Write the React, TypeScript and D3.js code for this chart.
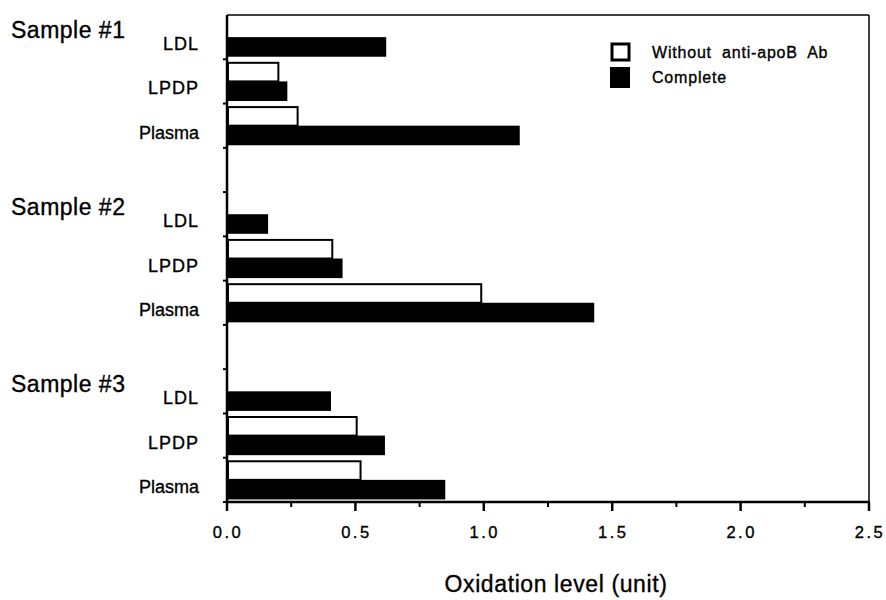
import React from "react";
import * as d3 from "d3";

const samples = ["Sample #1", "Sample #2", "Sample #3"];
const fractions = ["LDL", "LPDP", "Plasma"];
const seriesNames = ["Without anti-apoB Ab", "Complete"];
// values per sample, per fraction (null = no bar)
const withoutAb: (number | null)[][] = [
  [null, 0.2, 0.275],
  [null, 0.41, 0.99],
  [null, 0.505, 0.52],
];
const complete: number[][] = [
  [0.62, 0.235, 1.14],
  [0.16, 0.45, 1.43],
  [0.405, 0.615, 0.85],
];
const xTicks = [0, 0.5, 1.0, 1.5, 2.0, 2.5];
const xMinorTicks = [0.25, 0.75, 1.25, 1.75, 2.25];
const xTitle = "Oxidation level (unit)";

const W = 886;
const H = 600;
const M = { left: 227, right: 869, top: 15, bottom: 502 };
const FONT = "'Liberation Sans', Arial, Helvetica, sans-serif";
const TXT = { fontFamily: FONT, stroke: "#000", strokeWidth: 0.35 };

export default function App() {
  // rows: 3 fractions per sample, with an empty row between samples
  const rows: string[] = [];
  samples.forEach((s, si) => {
    fractions.forEach((f) => rows.push(`${si}-${f}`));
    if (si < samples.length - 1) rows.push(`gap-${si}`);
  });

  const x = d3.scaleLinear().domain([0, 2.5]).range([M.left, M.right]);
  const y = d3.scaleBand<string>().domain(rows).range([M.top, M.bottom]).paddingInner(0).paddingOuter(0);
  const inner = d3
    .scaleBand<string>()
    .domain(["without", "complete"])
    .range([0, y.bandwidth()])
    .paddingInner(0)
    .paddingOuter(0.13);

  const bars: { key: string; y: number; v: number; filled: boolean }[] = [];
  samples.forEach((_, si) => {
    fractions.forEach((f, fi) => {
      const rowY = y(`${si}-${f}`)!;
      const w = withoutAb[si][fi];
      if (w != null) bars.push({ key: `w-${si}-${fi}`, y: rowY + inner("without")!, v: w, filled: false });
      bars.push({ key: `c-${si}-${fi}`, y: rowY + inner("complete")!, v: complete[si][fi], filled: true });
    });
  });

  const yTickPos = rows.map((r) => y(r)!).slice(1).concat([M.bottom]);

  return (
    <svg width={W} height={H} style={{ position: "absolute", left: 0, top: 0, background: "#fff" }}>
      <rect x={0} y={0} width={W} height={H} fill="#fff" />
      {bars.map((b) =>
        b.filled ? (
          <rect key={b.key} x={x(0)} y={b.y} width={x(b.v) - x(0)} height={inner.bandwidth()} fill="#000" />
        ) : (
          <rect
            key={b.key}
            x={x(0) + 1}
            y={b.y + 1}
            width={x(b.v) - x(0) - 1}
            height={inner.bandwidth() - 1}
            fill="#fff"
            stroke="#000"
            strokeWidth={2}
          />
        )
      )}
      <line x1={M.left} x2={M.right} y1={M.top} y2={M.top} stroke="#000" strokeWidth={1.5} />
      <line x1={M.right} x2={M.right} y1={M.top} y2={M.bottom} stroke="#000" strokeWidth={1.5} />
      <line x1={M.left} x2={M.left} y1={M.top} y2={M.bottom} stroke="#000" strokeWidth={2.5} />
      <line x1={M.left - 1} x2={M.right + 1} y1={M.bottom} y2={M.bottom} stroke="#000" strokeWidth={2.5} />
      {yTickPos.map((p, i) => (
        <line key={`yt${i}`} x1={M.left - 4} x2={M.left} y1={p} y2={p} stroke="#000" strokeWidth={2} />
      ))}
      {xTicks.map((t) => (
        <g key={`xt${t}`}>
          <line x1={x(t)} x2={x(t)} y1={M.bottom} y2={M.bottom + 9} stroke="#000" strokeWidth={2.5} />
          <text x={x(t) + 1} y={M.bottom + 36} textAnchor="middle" fontSize={16.5} letterSpacing={2.5} {...TXT}>
            {t.toFixed(1)}
          </text>
        </g>
      ))}
      {xMinorTicks.map((t) => (
        <line key={`xm${t}`} x1={x(t)} x2={x(t)} y1={M.bottom} y2={M.bottom + 5} stroke="#000" strokeWidth={2} />
      ))}
      {samples.map((s, si) => (
        <g key={`lab${si}`}>
          <text x={11} y={y(`${si}-LDL`)! + y.bandwidth() / 2 + 1} fontSize={23} letterSpacing={0.5} {...TXT}>
            {s}
          </text>
          {fractions.map((f) => (
            <text
              key={f}
              x={199}
              y={y(`${si}-${f}`)! + y.bandwidth() / 2 + 13}
              textAnchor="end"
              fontSize={18}
              letterSpacing={f === "Plasma" ? 0 : 1}
              {...TXT}
            >
              {f}
            </text>
          ))}
        </g>
      ))}
      <rect x={612} y={44} width={17} height={16} fill="#fff" stroke="#000" strokeWidth={3} />
      <rect x={610} y={67} width={20} height={21} fill="#000" />
      <text x={652} y={58} fontSize={16} letterSpacing={0.8} wordSpacing={5} {...TXT}>
        {seriesNames[0]}
      </text>
      <text x={652} y={83} fontSize={16} letterSpacing={0.8} {...TXT}>
        {seriesNames[1]}
      </text>
      <text x={556} y={592} textAnchor="middle" fontSize={23} letterSpacing={0.6} {...TXT}>
        {xTitle}
      </text>
    </svg>
  );
}
